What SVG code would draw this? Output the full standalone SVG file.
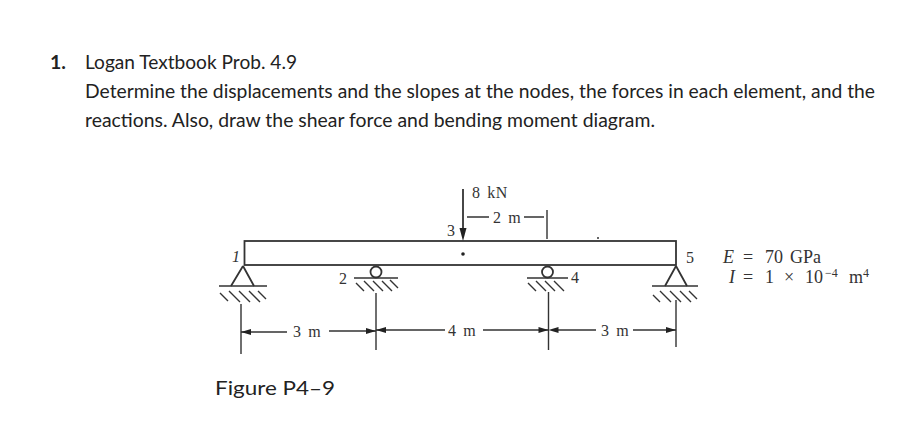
<svg xmlns="http://www.w3.org/2000/svg" width="906" height="436" viewBox="0 0 906 436">
<style>
.h{font-family:Lato,"Liberation Sans",sans-serif;font-size:19.5px;fill:#222}
.s{font-family:"Liberation Serif",serif;font-size:16px;fill:#333;letter-spacing:.6px}
.p{font-family:"Liberation Serif",serif;font-size:18px;fill:#333}
.u{font-family:"Liberation Serif",serif;font-size:12px;fill:#333}
.w{word-spacing:2px}
.i{font-style:italic}
.l{stroke:#333;stroke-width:1.4;fill:none}
.b{stroke:#333;stroke-width:1.8;fill:none}
.g{stroke:#333;stroke-width:1.4;fill:none}
.a{fill:#222;stroke:none}
</style>
<rect width="906" height="436" fill="#fff"/>
<g id="header">
<text class="h" x="50" y="69" font-weight="700">1.</text>
<text class="h" x="85" y="69" textLength="212" lengthAdjust="spacingAndGlyphs">Logan Textbook Prob. 4.9</text>
<text class="h" x="85" y="98" textLength="790" lengthAdjust="spacingAndGlyphs">Determine the displacements and the slopes at the nodes, the forces in each element, and the</text>
<text class="h" x="85" y="127" textLength="570" lengthAdjust="spacingAndGlyphs">reactions. Also, draw the shear force and bending moment diagram.</text>
<text class="h" x="215" y="395" textLength="120" lengthAdjust="spacingAndGlyphs">Figure P4–9</text>
</g>
<g id="beam">
<rect class="b" x="244.500" y="241" width="431.500" height="24"/>
<circle cx="463" cy="254" r="1.800" fill="#222"/>
<path class="l" d="M597 238h2"/>
</g>
<g id="node1">
<path class="b" d="M243 266L231 286M243 266L254 286"/>
<path class="g" d="M219 286H267M220 293l8 8M229 291l11 11M239 291l11 11M249 291l11 11M258 291l8 8"/>
<text class="s i" x="232" y="262">1</text>
</g>
<g id="node2">
<circle class="b" cx="376" cy="272" r="5.500"/>
<path class="g" d="M354 278H398M356 283l8 8M364 281l10 10M373 281l10 10M382 281l10 10M390 280l8 8"/>
<text class="s" x="339" y="284">2</text>
</g>
<g id="node3">
<text class="s" x="447" y="236">3</text>
<text class="s w" x="472" y="198">8 kN</text>
</g>
<g id="node4">
<circle class="b" cx="547.500" cy="272" r="5.500"/>
<path class="g" d="M527 278H568M528 283l8 8M536 281l10 10M545 281l10 10M554 281l10 10"/>
<text class="s" x="571" y="283">4</text>
</g>
<g id="node5">
<path class="b" d="M676 266L665 286M676 266L687 286"/>
<path class="g" d="M652 286H698M653 295l7 7M660 291l11 11M670 291l11 11M680 291l11 11M689 291l8 8"/>
<text class="s" x="686" y="263">5</text>
</g>
<g id="connectors">
<path class="b" d="M463 189V232"/>
<path class="a" d="M463 241L459.500 228H466.500Z"/>
<path class="l" d="M467 217H489M524 217H544M547 210V239"/>
<path class="l" d="M241 304V354M376 293V350M548.500 292V350M676 300V347"/>
<path class="l" d="M241 332H287M329 331H376M376 330H445M483 330H548M558 330H596M633 330H676"/>
<path class="a" d="M241 332l10-3v6ZM376 331l-10-3v6ZM376 330l10-3v6ZM548.500 330l-10-3v6ZM548.500 330l10-3v6ZM676 330l-10-3v6Z"/>
</g>
<g id="labels">
<text class="s w" x="293" y="337">3 m</text>
<text class="s w" x="448" y="336">4 m</text>
<text class="s w" x="601" y="336">3 m</text>
<text class="s w" x="493" y="223">2 m</text>
<text class="p" y="263"><tspan class="i" x="723">E</tspan><tspan x="743">=</tspan><tspan x="765">70</tspan><tspan x="790">GPa</tspan></text>
<text class="p" y="283"><tspan class="i" x="729">I</tspan><tspan x="743">=</tspan><tspan x="765">1</tspan><tspan x="784">×</tspan><tspan x="805">10</tspan></text>
<text class="u" y="277"><tspan x="825">−4</tspan></text>
<text class="p" y="283" x="849">m</text>
<text class="u" y="277" x="863">4</text>
</g>
</svg>
